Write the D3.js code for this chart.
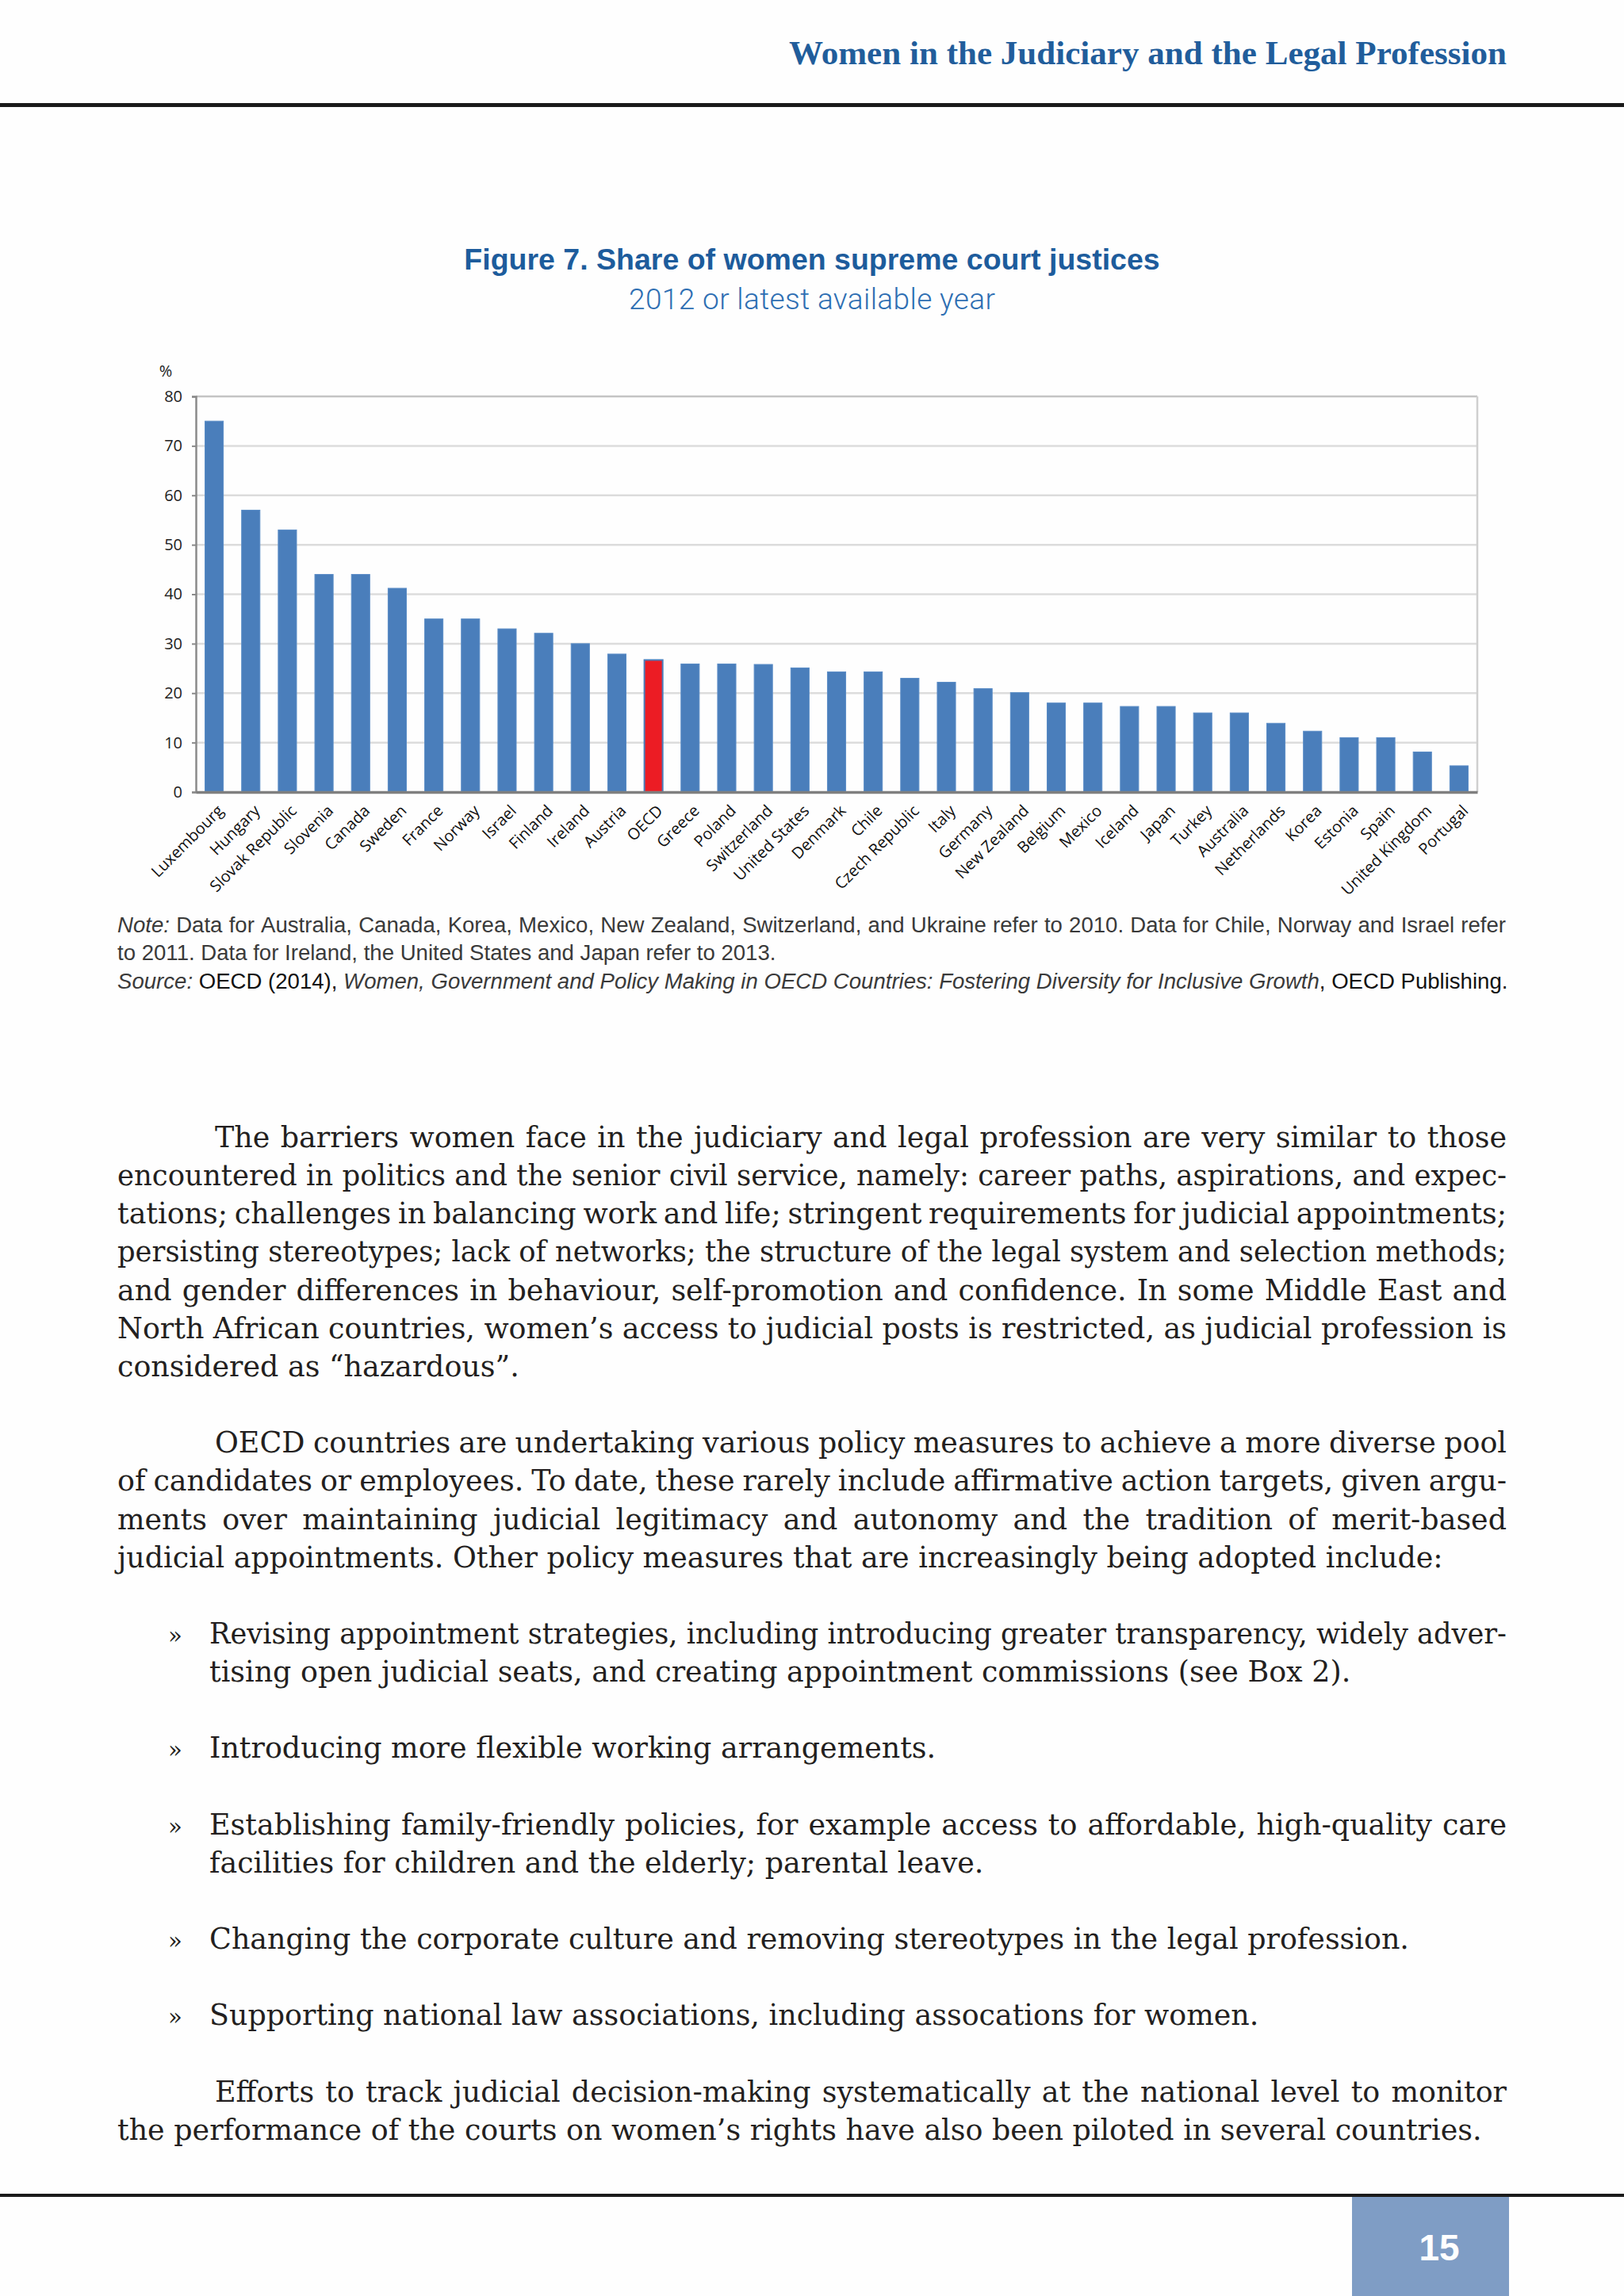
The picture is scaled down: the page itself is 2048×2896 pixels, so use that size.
<!DOCTYPE html>
<html>
<head>
<meta charset="utf-8">
<script src="https://cdn.jsdelivr.net/npm/d3@7"></script>
<style>
  html, body { margin: 0; padding: 0; background: #ffffff; }
  svg { display: block; }
</style>
</head>
<body>
<svg id="page" width="2048" height="2896"></svg>
<script>
// ---------------- DATA ----------------
const countries = ["Luxembourg","Hungary","Slovak Republic","Slovenia","Canada","Sweden","France","Norway","Israel","Finland","Ireland","Austria","OECD","Greece","Poland","Switzerland","United States","Denmark","Chile","Czech Republic","Italy","Germany","New Zealand","Belgium","Mexico","Iceland","Japan","Turkey","Australia","Netherlands","Korea","Estonia","Spain","United Kingdom","Portugal"];
const shareWomen = [75, 57, 53, 44, 44, 41.2, 35, 35, 33, 32.1, 30, 27.9, 26.7, 25.9, 25.9, 25.8, 25.1, 24.3, 24.3, 23, 22.2, 20.9, 20.1, 18, 18, 17.3, 17.3, 16, 16, 13.9, 12.3, 11, 11, 8.1, 5.3];
const highlight = ["OECD"];
const yTicks = [0, 10, 20, 30, 40, 50, 60, 70, 80];
const yLabel = "%";

const headerText = "Women in the Judiciary and the Legal Profession";
const figTitle = "Figure 7. Share of women supreme court justices";
const figSubtitle = "2012 or latest available year";
const noteLine1 = "Data for Australia, Canada, Korea, Mexico, New Zealand, Switzerland, and Ukraine refer to 2010. Data for Chile, Norway and Israel refer";
const noteLine2 = "to 2011. Data for Ireland, the United States and Japan refer to 2013.";
const pageNumber = "15";

// kind: 'i' indent justified, 'j' justified, 'l' last line, 'b' bullet justified, 'bl' bullet single, 'bcl' bullet continuation last
const bodyLines = [
  ["The barriers women face in the judiciary and legal profession are very similar to those", "i"],
  ["encountered in politics and the senior civil service, namely: career paths, aspirations, and expec-", "j"],
  ["tations; challenges in balancing work and life; stringent requirements for judicial appointments;", "j"],
  ["persisting stereotypes; lack of networks; the structure of the legal system and selection methods;", "j"],
  ["and gender differences in behaviour, self-promotion and confidence. In some Middle East and", "j"],
  ["North African countries, women’s access to judicial posts is restricted, as judicial profession is", "j"],
  ["considered as “hazardous”.", "l"],
  ["", ""],
  ["OECD countries are undertaking various policy measures to achieve a more diverse pool", "i"],
  ["of candidates or employees. To date, these rarely include affirmative action targets, given argu-", "j"],
  ["ments over maintaining judicial legitimacy and autonomy and the tradition of merit-based", "j"],
  ["judicial appointments. Other policy measures that are increasingly being adopted include:", "l"],
  ["", ""],
  ["Revising appointment strategies, including introducing greater transparency, widely adver-", "b"],
  ["tising open judicial seats, and creating appointment commissions (see Box 2).", "bcl"],
  ["", ""],
  ["Introducing more flexible working arrangements.", "bl"],
  ["", ""],
  ["Establishing family-friendly policies, for example access to affordable, high-quality care", "b"],
  ["facilities for children and the elderly; parental leave.", "bcl"],
  ["", ""],
  ["Changing the corporate culture and removing stereotypes in the legal profession.", "bl"],
  ["", ""],
  ["Supporting national law associations, including assocations for women.", "bl"],
  ["", ""],
  ["Efforts to track judicial decision-making systematically at the national level to monitor", "i"],
  ["the performance of the courts on women’s rights have also been piloted in several countries.", "l"]
];

// ---------------- LAYOUT ----------------
const svg = d3.select("#page");
svg.append("rect").attr("width", 2048).attr("height", 2896).attr("fill", "#fefefe");

// Header
svg.append("text")
  .attr("x", 1900).attr("y", 81)
  .attr("text-anchor", "end")
  .attr("font-family", "'Liberation Serif', 'DejaVu Serif', serif")
  .attr("font-weight", "bold")
  .attr("font-size", 42)
  .attr("fill", "#215d9b")
  .attr("textLength", 905).attr("lengthAdjust", "spacingAndGlyphs")
  .text(headerText);
svg.append("rect").attr("x", 0).attr("y", 130).attr("width", 2048).attr("height", 5).attr("fill", "#1b1b1b");

// Titles
svg.append("text")
  .attr("x", 1024).attr("y", 340)
  .attr("text-anchor", "middle")
  .attr("font-family", "'Liberation Sans', Arial, sans-serif")
  .attr("font-weight", "bold").attr("font-size", 37.5)
  .attr("fill", "#1d5c9c")
  .text(figTitle);
svg.append("text")
  .attr("x", 1024).attr("y", 390)
  .attr("text-anchor", "middle")
  .attr("font-family", "Roboto, 'Liberation Sans', sans-serif")
  .attr("font-weight", 300).attr("font-size", 37)
  .attr("fill", "#2e6fb3")
  .attr("textLength", 462).attr("lengthAdjust", "spacing")
  .text(figSubtitle);

// ---------------- CHART ----------------
const plot = { left: 247, right: 1863, top: 500, bottom: 999 };
const x = d3.scaleBand().domain(countries).range([plot.left, plot.right]).paddingInner(0.5).paddingOuter(0.25);
const y = d3.scaleLinear().domain([0, 80]).range([plot.bottom, plot.top]);
const chart = svg.append("g");
const axisFont = "'Open Sans', 'Noto Sans', sans-serif";

// gridlines
chart.append("g").selectAll("line").data(yTicks.filter(d => d > 0)).join("line")
  .attr("x1", plot.left).attr("x2", plot.right)
  .attr("y1", d => y(d)).attr("y2", d => y(d))
  .attr("stroke", d => d === 80 ? "#c4c4c4" : "#dcdcdc").attr("stroke-width", 2.5);
// right border
chart.append("line").attr("x1", plot.right).attr("x2", plot.right).attr("y1", plot.top).attr("y2", plot.bottom)
  .attr("stroke", "#cfcfcf").attr("stroke-width", 2.5);

// bars
const vals = countries.map((c, i) => ({ c, v: shareWomen[i] }));
chart.append("g").selectAll("rect").data(vals).join("rect")
  .attr("x", d => x(d.c)).attr("width", x.bandwidth())
  .attr("y", d => y(d.v)).attr("height", d => y(0) - y(d.v))
  .attr("fill", d => highlight.includes(d.c) ? "#ec1c24" : "#4a7ebb")
  .attr("stroke", d => highlight.includes(d.c) ? "#4a7ebb" : "#5a8cc6")
  .attr("stroke-width", d => highlight.includes(d.c) ? 2 : 1);

// y axis
const yAxis = d3.axisLeft(y).tickValues(yTicks).tickSize(5).tickPadding(12);
const gy = chart.append("g").attr("transform", `translate(${plot.left},0)`).call(yAxis);
gy.select(".domain").attr("stroke", "#8a8a8a").attr("stroke-width", 2.5);
gy.selectAll(".tick line").attr("stroke", "#8a8a8a").attr("stroke-width", 2);
gy.selectAll(".tick text").attr("font-family", axisFont).attr("font-size", 20).attr("fill", "#222");

// x axis
const xAxis = d3.axisBottom(x).tickSize(0).tickPadding(0);
const gx = chart.append("g").attr("transform", `translate(0,${plot.bottom})`).call(xAxis);
gx.select(".domain").attr("stroke", "#7f7f7f").attr("stroke-width", 3.5);
gx.selectAll(".tick text")
  .attr("font-family", axisFont).attr("font-size", 20).attr("fill", "#111")
  .attr("text-anchor", "end")
  .attr("dy", "0.7em")
  .attr("transform", "translate(3,15) rotate(-45)");

// y label
svg.append("text").attr("x", 209).attr("y", 475).attr("text-anchor", "middle")
  .attr("font-family", axisFont).attr("font-size", 20).attr("fill", "#222").text(yLabel);

// ---------------- NOTES ----------------
const noteFont = "'Liberation Sans', Arial, sans-serif";
function measure(str, font, size, style, weight) {
  const t = svg.append("text").attr("font-family", font).attr("font-size", size)
    .attr("font-style", style || "normal").attr("font-weight", weight || "normal")
    .attr("xml:space", "preserve").style("white-space", "pre").text(str);
  const w = t.node().getComputedTextLength();
  t.remove();
  return w;
}
let noteSize = 100 * 831 / measure(noteLine2, noteFont, 100);
noteSize = Math.max(22, Math.min(30, noteSize));
const noteColor = "#3a3a3a";

// justified line helper (word spacing); falls back to glyph compression when too long
function justified(g, str, x0, yb, width, font, size, fill) {
  const words = str.split(" ");
  const ws = words.map(w => measure(w, font, size));
  const total = d3.sum(ws);
  const space = measure("a a", font, size) - measure("aa", font, size);
  const gap = (width - total) / Math.max(1, words.length - 1);
  if (gap < space * 0.75) {
    g.append("text").attr("x", x0).attr("y", yb)
      .attr("font-family", font).attr("font-size", size).attr("fill", fill)
      .attr("textLength", width).attr("lengthAdjust", "spacingAndGlyphs").text(str);
    return;
  }
  let cx = x0;
  words.forEach((w, i) => {
    g.append("text").attr("x", cx).attr("y", yb)
      .attr("font-family", font).attr("font-size", size).attr("fill", fill).text(w);
    cx += ws[i] + gap;
  });
}

const notes = svg.append("g");
const noteLab = "Note:";
notes.append("text").attr("x", 148).attr("y", 1176).attr("font-family", noteFont).attr("font-size", noteSize)
  .attr("font-style", "italic").attr("fill", noteColor).text(noteLab);
const labW = measure(noteLab, noteFont, noteSize, "italic") + noteSize * 0.3;
justified(notes, noteLine1, 148 + labW, 1176, 1899 - 148 - labW, noteFont, noteSize, noteColor);
notes.append("text").attr("x", 148).attr("y", 1211).attr("font-family", noteFont).attr("font-size", noteSize)
  .attr("fill", noteColor).text(noteLine2);
const src = notes.append("text").attr("x", 148).attr("y", 1247).attr("font-family", noteFont).attr("font-size", noteSize)
  .attr("fill", "#111");
src.append("tspan").attr("font-style", "italic").attr("fill", noteColor).text("Source: ");
src.append("tspan").text("OECD (2014), ");
src.append("tspan").attr("font-style", "italic").attr("fill", noteColor).text("Women, Government and Policy Making in OECD Countries: Fostering Diversity for Inclusive Growth");
src.append("tspan").text(", OECD Publishing.");

// ---------------- BODY TEXT ----------------
const bodyFont = "'DejaVu Serif', 'Liberation Serif', serif";
let bodySize = 100 * 1721 / measure(bodyLines[bodyLines.length - 1][0], bodyFont, 100);
bodySize = Math.max(28, Math.min(38, bodySize));
const bodyColor = "#231f20";
const body = svg.append("g");
const L = 148, R = 1900, IND = 271, BUL = 212, BTX = 264;
const y0 = 1447, lh = 48.15;
bodyLines.forEach(([str, kind], i) => {
  if (!kind) return;
  const yb = y0 + i * lh;
  let xs = L;
  if (kind === "i") xs = IND;
  if (kind.startsWith("b")) xs = BTX;
  if (kind === "b" || kind === "bl") {
    body.append("text").attr("x", BUL).attr("y", yb).attr("font-family", bodyFont)
      .attr("font-size", bodySize * 0.8).attr("fill", bodyColor).text("»");
  }
  const just = (kind === "i" || kind === "j" || kind === "b");
  if (just) {
    justified(body, str, xs, yb, R - xs, bodyFont, bodySize, bodyColor);
  } else {
    body.append("text").attr("x", xs).attr("y", yb).attr("font-family", bodyFont)
      .attr("font-size", bodySize).attr("fill", bodyColor).text(str);
  }
});

// ---------------- FOOTER ----------------
svg.append("rect").attr("x", 0).attr("y", 2767).attr("width", 2048).attr("height", 4).attr("fill", "#1b1b1b");
svg.append("rect").attr("x", 1705).attr("y", 2771).attr("width", 198).attr("height", 125).attr("fill", "#7f9dc5");
svg.append("text").attr("x", 1815).attr("y", 2851).attr("text-anchor", "middle")
  .attr("font-family", "'Liberation Sans', Arial, sans-serif").attr("font-weight", "bold")
  .attr("font-size", 46).attr("fill", "#ffffff").text(pageNumber);
</script>
</body>
</html>
